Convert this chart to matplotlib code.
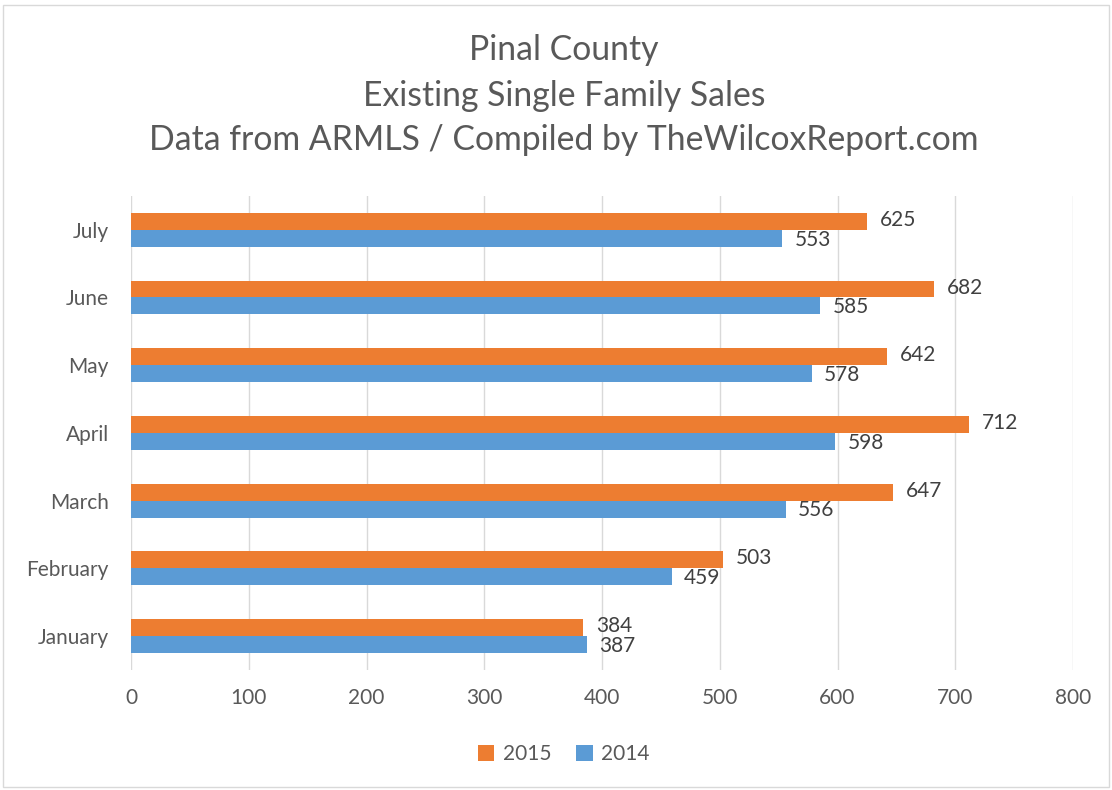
import matplotlib
matplotlib.use("Agg")
import matplotlib.pyplot as plt
from matplotlib.patches import Rectangle
import numpy as np

plt.rcParams['font.family'] = ['Lato', 'DejaVu Sans']

months = ["January", "February", "March", "April", "May", "June", "July"]
sales_2015 = [384, 503, 647, 712, 642, 682, 625]
sales_2014 = [387, 459, 556, 598, 578, 585, 553]
xticks = [0, 100, 200, 300, 400, 500, 600, 700, 800]

c2015 = "#ED7D31"
c2014 = "#5B9BD5"
tc = "#595959"

fig = plt.figure(figsize=(11.12, 7.9), dpi=100)
fig.patches.append(Rectangle((0.003, 0.004), 0.994, 0.99, transform=fig.transFigure,
                             fill=False, edgecolor="#D9D9D9", linewidth=1))
ax = fig.add_axes([0.1178, 0.152, 0.8472, 0.600])

y = np.arange(len(months))
h = 0.25
b15 = ax.barh(y + h/2, sales_2015, height=h, color=c2015, label="2015", zorder=3)
b14 = ax.barh(y - h/2, sales_2014, height=h, color=c2014, label="2014", zorder=3)

for bars, dy in ((b15, 1.0), (b14, -1.0)):
    for r in bars:
        ax.annotate(f"{int(r.get_width())}", (r.get_width(), r.get_y() + r.get_height()/2),
                    xytext=(9, dy), textcoords="offset points", va="center", ha="left",
                    fontsize=15, color="#404040")

ax.set_xlim(0, 800)
ax.set_ylim(-0.5, len(months) - 0.5)
ax.set_xticks(xticks)
ax.set_xticklabels([str(t) for t in xticks])
ax.set_yticks(y)
ax.set_yticklabels(months)
ax.tick_params(axis='both', length=0, labelsize=15, colors=tc)
ax.tick_params(axis='x', pad=13)
ax.tick_params(axis='y', pad=16)
ax.grid(axis='x', color="#D9D9D9", linewidth=1, zorder=0)
for s in ax.spines.values():
    s.set_visible(False)

fig.text(0.507, 0.937, "Pinal County", ha="center", va="center", fontsize=24.3, color=tc)
fig.text(0.507, 0.879, "Existing Single Family Sales", ha="center", va="center", fontsize=24.3, color=tc)
fig.text(0.507, 0.823, "Data from ARMLS / Compiled by TheWilcoxReport.com", ha="center", va="center", fontsize=24.3, color=tc)

leg = fig.legend(handles=[b15, b14], labels=["2015", "2014"], loc="center", bbox_to_anchor=(0.507, 0.045),
                 ncol=2, frameon=False, fontsize=15, handlelength=0.8, handleheight=0.8,
                 handletextpad=0.4, columnspacing=1.2)
for t in leg.get_texts():
    t.set_color(tc)

fig.savefig("out.png", dpi=100)
